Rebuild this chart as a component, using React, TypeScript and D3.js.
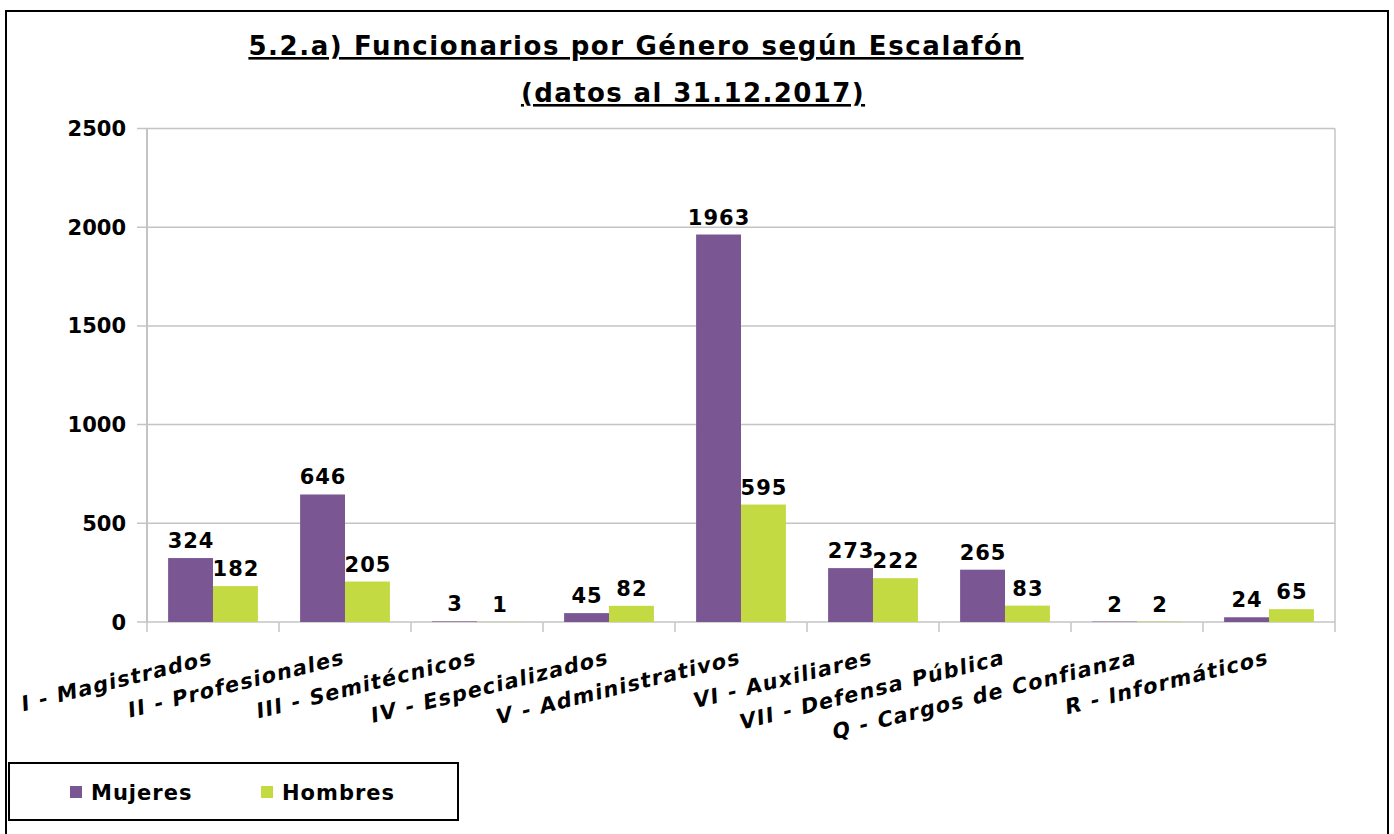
import React, { useEffect, useRef } from 'react'
import * as d3 from 'd3'

const categories = [
  'I - Magistrados',
  'II - Profesionales',
  'III - Semitécnicos',
  'IV - Especializados',
  'V - Administrativos',
  'VI - Auxiliares',
  'VII - Defensa Pública',
  'Q - Cargos de Confianza',
  'R - Informáticos',
]
const mujeres = [324, 646, 3, 45, 1963, 273, 265, 2, 24]
const hombres = [182, 205, 1, 82, 595, 222, 83, 2, 65]
const seriesNames = ['Mujeres', 'Hombres']
const yTicks = [0, 500, 1000, 1500, 2000, 2500]

const colors = ['#7a5793', '#c3da42']
const FONT = '"DejaVu Sans", Verdana, sans-serif'

function App() {
  const ref = useRef<SVGSVGElement>(null)

  useEffect(() => {
    const svg = d3.select(ref.current)
    svg.selectAll('*').remove()

    const left = 147, right = 1335, top = 128.5, bottom = 622

    // outer frame
    svg.append('rect')
      .attr('x', 6).attr('y', 11)
      .attr('width', 1382).attr('height', 840)
      .attr('fill', '#fff').attr('stroke', '#000').attr('stroke-width', 2)

    svg.append('text')
      .attr('x', 636).attr('y', 55)
      .attr('text-anchor', 'middle')
      .attr('font-family', FONT).attr('font-weight', 'bold').attr('font-size', 26)
      .attr('letter-spacing', 1.6)
      .attr('text-decoration', 'underline')
      .text('5.2.a) Funcionarios por Género según Escalafón')

    svg.append('text')
      .attr('x', 693).attr('y', 102)
      .attr('text-anchor', 'middle')
      .attr('font-family', FONT).attr('font-weight', 'bold').attr('font-size', 26)
      .attr('letter-spacing', 1.4)
      .attr('text-decoration', 'underline')
      .text('(datos al 31.12.2017)')

    const x = d3.scaleBand().domain(categories).range([left, right])
    const xs = d3.scaleBand().domain(seriesNames).range([0, x.bandwidth()]).paddingOuter(0.47).paddingInner(0)
    const y = d3.scaleLinear().domain([0, 2500]).range([bottom, top])

    const grid = '#c4c4c4'

    // gridlines
    svg.append('g').selectAll('line')
      .data(yTicks)
      .enter().append('line')
      .attr('x1', left - 10).attr('x2', right)
      .attr('y1', d => y(d)).attr('y2', d => y(d))
      .attr('stroke', grid).attr('stroke-width', 1.5)

    svg.append('line')
      .attr('x1', left).attr('x2', left).attr('y1', top).attr('y2', bottom)
      .attr('stroke', grid).attr('stroke-width', 2)
    svg.append('line')
      .attr('x1', right).attr('x2', right).attr('y1', top).attr('y2', bottom)
      .attr('stroke', grid).attr('stroke-width', 1.5)

    // x ticks
    const bounds = categories.map(c => x(c) as number).concat([right])
    svg.append('g').selectAll('line')
      .data(bounds)
      .enter().append('line')
      .attr('x1', d => d).attr('x2', d => d)
      .attr('y1', bottom).attr('y2', bottom + 10)
      .attr('stroke', grid).attr('stroke-width', 1.5)

    // y tick labels
    svg.append('g').selectAll('text')
      .data(yTicks)
      .enter().append('text')
      .attr('x', 126).attr('y', d => y(d) + 7.5)
      .attr('text-anchor', 'end')
      .attr('font-family', FONT).attr('font-weight', 'bold').attr('font-size', 21)
      .text(d => d)

    const series = [mujeres, hombres]
    series.forEach((vals, si) => {
      const g = svg.append('g')
      g.selectAll('rect')
        .data(vals)
        .enter().append('rect')
        .attr('x', (d, i) => (x(categories[i]) as number) + (xs(seriesNames[si]) as number))
        .attr('y', d => y(d))
        .attr('width', xs.bandwidth())
        .attr('height', d => bottom - y(d))
        .attr('fill', colors[si])

      g.selectAll('text')
        .data(vals)
        .enter().append('text')
        .attr('x', (d, i) => (x(categories[i]) as number) + (xs(seriesNames[si]) as number) + xs.bandwidth() / 2 + 0.5)
        .attr('y', d => y(d) - 10)
        .attr('text-anchor', 'middle')
        .attr('font-family', FONT).attr('font-weight', 'bold').attr('font-size', 21)
        .attr('letter-spacing', 1)
        .text(d => d)
    })

    // category labels (rotated with a slight lean, like the original)
    svg.append('g').selectAll('text')
      .data(categories)
      .enter().append('text')
      .attr('transform', d => `translate(${(x(d) as number) + x.bandwidth() / 2},${bottom + 42}) rotate(-14) skewX(-11)`)
      .attr('text-anchor', 'end')
      .attr('font-family', FONT).attr('font-weight', 'bold')
      .attr('font-size', 21).attr('letter-spacing', 1.3)
      .text(d => d)

    // legend
    svg.append('rect')
      .attr('x', 9).attr('y', 763).attr('width', 449).attr('height', 57)
      .attr('fill', '#fff').attr('stroke', '#000').attr('stroke-width', 2)

    const legendX = [70, 261]
    seriesNames.forEach((name, i) => {
      svg.append('rect')
        .attr('x', legendX[i]).attr('y', 786).attr('width', 12).attr('height', 12)
        .attr('fill', colors[i])
      svg.append('text')
        .attr('x', legendX[i] + 21).attr('y', 800)
        .attr('font-family', FONT).attr('font-weight', 'bold').attr('font-size', 21)
        .attr('letter-spacing', 1)
        .text(name)
    })
  }, [])

  return (
    <svg ref={ref} width={1394} height={834}
      style={{ position: 'absolute', left: 0, top: 0, background: '#fff' }} />
  )
}

export default App
